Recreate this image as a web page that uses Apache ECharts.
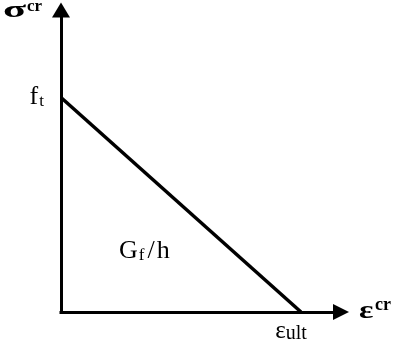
<!DOCTYPE html>
<html>
<head>
<meta charset="utf-8">
<script src="https://cdn.jsdelivr.net/npm/echarts@6/dist/echarts.min.js"></script>
<style>
  html, body { margin: 0; padding: 0; background: #fff; }
  #chart { width: 395px; height: 354px; }
</style>
</head>
<body>
<div id="chart"></div>
<script>
// Linear tension-softening law: crack stress vs crack strain (normalized)
const strainPoints = [0, 1];      // 0 ... ε_ult
const stressPoints = [1, 0];      // f_t ... 0
const ftValue = 1;                // tensile strength f_t
const epsUltValue = 1;            // ultimate crack strain ε_ult
const xAxisMax = 7 / 6;
const yAxisMax = 1.408;

const serif = '"Liberation Serif", "DejaVu Serif", serif';

const rich = {
  b:   { fontFamily: serif, fontSize: 26, lineHeight: 26, color: '#000', verticalAlign: 'top' },
  sl:  { fontFamily: serif, fontSize: 26, lineHeight: 26, color: '#000', verticalAlign: 'top', padding: [0, 2, 0, 3] },
  sub: { fontFamily: serif, fontSize: 17, lineHeight: 17, color: '#000', verticalAlign: 'bottom', padding: [15, 0, 0, 1] },
  e:   { fontFamily: serif, fontSize: 25, lineHeight: 25, color: '#000', verticalAlign: 'top' },
  u:   { fontFamily: serif, fontSize: 20, lineHeight: 20, color: '#000', verticalAlign: 'bottom', padding: [9, 0, 0, 0] }
};

function plainText(str, x, y, size, opts) {
  opts = opts || {};
  return {
    type: 'text', x: x, y: y, silent: true,
    scaleX: opts.scaleX || 1,
    style: {
      text: str,
      font: (opts.bold ? 'bold ' : '') + size + 'px ' + serif,
      fill: '#000',
      align: 'left',
      verticalAlign: 'middle'
    }
  };
}

const chart = echarts.init(document.getElementById('chart'), null, { renderer: 'canvas' });

const axisLineStyle = { color: '#000', width: 3, cap: 'square' };

chart.setOption({
  animation: false,
  backgroundColor: '#fff',
  grid: { left: 61, right: 54, top: 10, bottom: 42, containLabel: false },
  xAxis: {
    type: 'value',
    min: 0,
    max: xAxisMax,
    interval: epsUltValue,
    splitLine: { show: false },
    axisTick: { show: false },
    axisLine: {
      show: true,
      onZero: false,
      lineStyle: axisLineStyle,
      symbol: ['none', 'triangle'],
      symbolSize: [16, 16]
    },
    axisLabel: {
      show: true,
      margin: 7,
      showMinLabel: true,
      showMaxLabel: true,
      padding: [0, 20, 0, 0],
      rich: rich,
      formatter: v => (Math.abs(v - epsUltValue) < 1e-9 ? '{e|ε}{u|ult}' : '')
    }
  },
  yAxis: {
    type: 'value',
    min: 0,
    max: yAxisMax,
    interval: ftValue,
    splitLine: { show: false },
    axisTick: { show: false },
    axisLine: {
      show: true,
      onZero: false,
      lineStyle: axisLineStyle,
      symbol: ['none', 'triangle'],
      symbolSize: [18, 15]
    },
    axisLabel: {
      show: true,
      margin: 17,
      rich: rich,
      formatter: v => (Math.abs(v - ftValue) < 1e-9 ? '{b|f}{sub|t}' : '')
    }
  },
  series: [{
    type: 'line',
    data: strainPoints.map((x, i) => [x, stressPoints[i]]),
    symbol: 'none',
    lineStyle: { color: '#000', width: 3.5 }
  }],
  graphic: [
    // axis titles
    plainText('σ', 3, 11, 23, { bold: true, scaleX: 1.85 }),
    plainText('cr', 27, 7, 17, { bold: true }),
    plainText('ε', 359, 312, 25, { bold: true, scaleX: 1.35 }),
    plainText('cr', 375, 305, 18, { bold: true }),
    // area under the softening curve
    {
      type: 'text', left: 119, top: 232, silent: true,
      style: { text: '{b|G}{sub|f}{sl|/}{b|h}', rich: rich }
    }
  ]
});
</script>
</body>
</html>
